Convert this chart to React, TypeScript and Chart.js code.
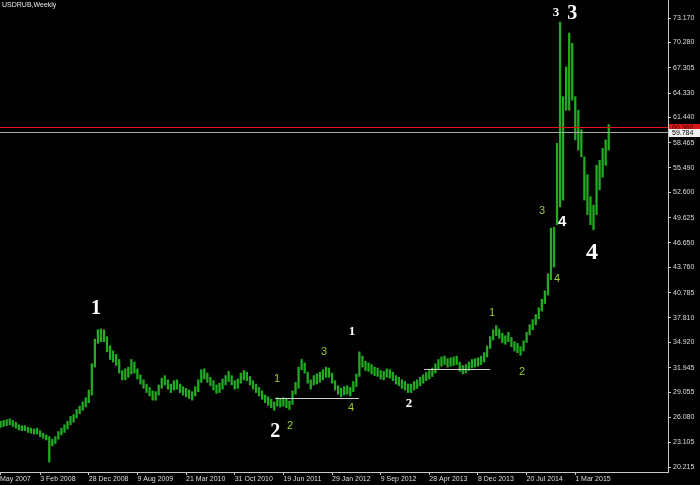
import React, { useEffect, useRef } from 'react';
import { Chart, registerables } from 'chart.js';

Chart.register(...registerables);

// Weekly USDRUB bars (two-week buckets), low and high
const barLow = [
  24.9, 25.0, 25.1, 25.2, 25.0, 24.8, 24.6, 24.5, 24.5, 24.3,
  24.2, 24.1, 24.1, 23.8, 23.6, 23.4, 20.8, 22.7, 23.0, 23.5,
  24.0, 24.3, 24.7, 25.2, 25.5, 26.0, 26.5, 26.9, 27.3, 27.8,
  28.7, 32.0, 34.8, 35.0, 35.0, 33.8, 32.9, 32.6, 32.2, 31.3,
  30.5, 30.5, 30.8, 31.2, 31.3, 30.6, 30.0, 29.5, 29.0, 28.6,
  28.1, 28.1, 28.7, 29.5, 29.9, 29.4, 29.0, 29.3, 29.4, 29.0,
  28.7, 28.5, 28.3, 28.1, 28.6, 29.1, 30.2, 30.6, 30.2, 29.8,
  29.3, 28.9, 29.0, 29.4, 29.9, 30.3, 29.9, 29.4, 29.5, 30.1,
  30.5, 30.4, 29.9, 29.4, 29.0, 28.6, 28.2, 27.8, 27.5, 27.2,
  26.9, 27.4, 27.3, 27.4, 27.2, 27.0, 27.6, 28.8, 29.5, 31.7,
  31.3, 30.1, 29.4, 29.9, 30.0, 30.2, 30.5, 30.8, 30.8, 30.1,
  29.3, 28.8, 28.5, 28.7, 28.8, 28.6, 29.1, 29.7, 30.9, 32.0,
  31.6, 31.5, 31.2, 31.0, 30.9, 30.6, 30.5, 30.8, 30.7, 30.4,
  30.0, 29.8, 29.5, 29.3, 29.0, 29.0, 29.3, 29.5, 29.8, 30.1,
  30.4, 30.6, 30.9, 31.3, 31.8, 32.1, 32.3, 32.0, 32.1, 32.2,
  32.3, 31.5, 31.2, 31.3, 31.6, 31.9, 32.0, 32.1, 32.3, 32.6,
  33.2, 34.2, 35.2, 35.7, 35.4, 34.9, 34.7, 35.0, 34.4, 33.9,
  33.7, 33.4, 33.9, 34.9, 35.8, 36.4, 37.0, 37.7, 38.6, 39.5,
  40.5, 42.3, 43.8, 48.8, 50.9, 51.7, 62.3, 62.3, 63.5, 58.8,
  57.6, 56.8, 51.7, 50.0, 48.8, 48.2, 50.0, 52.9, 54.4, 55.8,
  57.6,
];

const barHigh = [
  25.6, 25.7, 25.8, 25.9, 25.7, 25.5, 25.2, 25.1, 25.1, 24.9,
  24.8, 24.7, 24.8, 24.5, 24.2, 24.0, 23.8, 23.5, 23.8, 24.4,
  24.8, 25.2, 25.6, 26.2, 26.4, 27.0, 27.4, 27.9, 28.4, 29.3,
  32.4, 35.3, 36.4, 36.5, 36.4, 35.6, 34.5, 33.9, 33.5, 32.9,
  31.6, 31.8, 32.0, 32.9, 32.6, 31.8, 31.1, 30.5, 30.0, 29.6,
  29.2, 29.1, 29.9, 30.7, 31.0, 30.5, 30.0, 30.4, 30.5, 30.0,
  29.7, 29.5, 29.3, 29.1, 29.7, 30.5, 31.7, 31.8, 31.3, 30.8,
  30.4, 29.9, 30.1, 30.6, 31.0, 31.5, 31.0, 30.4, 30.6, 31.3,
  31.6, 31.4, 30.9, 30.4, 30.0, 29.6, 29.2, 28.7, 28.5, 28.2,
  27.9, 28.4, 28.3, 28.4, 28.2, 28.0, 29.2, 30.2, 32.0, 32.9,
  32.5, 31.4, 30.5, 31.0, 31.2, 31.4, 31.7, 32.0, 31.9, 31.3,
  30.4, 29.8, 29.5, 29.7, 29.8, 29.6, 30.3, 31.2, 33.8, 33.3,
  32.7, 32.5, 32.3, 32.0, 31.9, 31.6, 31.5, 31.8, 31.7, 31.4,
  31.0, 30.8, 30.5, 30.3, 30.0, 30.0, 30.3, 30.5, 30.8, 31.1,
  31.4, 31.6, 31.9, 32.4, 32.9, 33.2, 33.3, 33.0, 33.1, 33.2,
  33.3, 32.6, 32.2, 32.3, 32.6, 32.9, 33.0, 33.1, 33.3, 33.7,
  34.5, 35.6, 36.4, 36.9, 36.5, 36.0, 35.7, 36.1, 35.5, 35.0,
  34.8, 34.4, 35.1, 36.1, 37.0, 37.6, 38.2, 39.0, 40.0, 41.0,
  43.0, 48.4, 48.5, 58.4, 72.7, 63.9, 67.4, 71.4, 70.2, 63.9,
  62.3, 60.0, 56.8, 54.7, 52.1, 51.1, 55.8, 56.4, 57.8, 58.8,
  60.6,
];

// Time axis labels (bar slot, text)
const dateTickSlots = [-0.2, 13, 29, 45, 61, 77, 93, 109, 125, 141, 157, 173, 189];
const dateTickLabels = [
  'May 2007', '3 Feb 2008', '28 Dec 2008', '9 Aug 2009', '21 Mar 2010', '31 Oct 2010',
  '19 Jun 2011', '29 Jan 2012', '9 Sep 2012', '28 Apr 2013', '8 Dec 2013', '20 Jul 2014', '1 Mar 2015',
];

// Price axis labels
const priceTicks = [
  73.17, 70.28, 67.305, 64.33, 61.44, 58.465, 55.49, 52.6, 49.625, 46.65,
  43.76, 40.785, 37.81, 34.92, 31.945, 29.055, 26.08, 23.105, 20.215,
];

const symbolTitle = 'USDRUB,Weekly';
const bidPrice = 59.784;
const redLinePrice = 60.36;

// Horizontal support segments
const supportFrom = [90.3, 139.3];
const supportTo = [117.9, 161.0];
const supportPrice = [28.4, 31.75];

// Elliott wave labels
const waveText = ['1', '2', '2', '1', '3', '4', '1', '2', '1', '2', '3', '4', '4', '3', '3', '4'];
const waveSlot = [31.4, 90.3, 95.2, 90.9, 106.4, 115.3, 115.6, 134.3, 161.6, 171.5, 178.1, 184.7, 183.0, 182.7, 188.0, 194.5];
const wavePrice = [38.86, 24.36, 25.06, 30.61, 33.79, 27.19, 36.15, 27.66, 38.39, 31.43, 50.42, 49.12, 42.4, 73.77, 73.65, 45.47];
const waveKind = ['big', 'big', 'minor', 'minor', 'minor', 'minor', 'mid', 'mid', 'minor', 'minor', 'minor', 'sans', 'minor', 'mid', 'big', 'huge'];

const waveStyle: Record<string, { font: string; color: string }> = {
  huge: { font: 'bold 24px "Liberation Serif"', color: '#ffffff' },
  big: { font: 'bold 20px "Liberation Serif"', color: '#ffffff' },
  mid: { font: 'bold 13px "Liberation Serif"', color: '#ffffff' },
  sans: { font: 'bold 15px "Liberation Sans"', color: '#ffffff' },
  minor: { font: '11px "Liberation Sans"', color: '#9acd32' },
};

const AXIS_COLOR = '#c8c8c8';
const LABEL_COLOR = '#dcdcdc';
const SMALL_FONT = { family: 'Liberation Sans', size: 7 };

const overlayPlugin = {
  id: 'mtOverlay',
  beforeDraw(chart: any) {
    const ctx = chart.ctx;
    ctx.save();
    ctx.fillStyle = '#000000';
    ctx.fillRect(0, 0, chart.width, chart.height);
    ctx.restore();
  },
  afterDatasetsDraw(chart: any) {
    const { ctx, chartArea, scales } = chart;
    const xs = scales.x;
    const ys = scales.y;
    ctx.save();
    ctx.beginPath();
    ctx.rect(chartArea.left, chartArea.top, chartArea.right - chartArea.left, chartArea.bottom - chartArea.top);
    ctx.clip();
    ctx.lineWidth = 1;

    // support segments
    for (let i = 0; i < supportPrice.length; i++) {
      const py = Math.round(ys.getPixelForValue(supportPrice[i])) + 0.5;
      ctx.strokeStyle = '#d0d0d0';
      ctx.beginPath();
      ctx.moveTo(xs.getPixelForValue(supportFrom[i]), py);
      ctx.lineTo(xs.getPixelForValue(supportTo[i]), py);
      ctx.stroke();
    }

    // bid line
    const by = Math.round(ys.getPixelForValue(bidPrice)) + 0.5;
    ctx.strokeStyle = '#a8a8a8';
    ctx.beginPath();
    ctx.moveTo(chartArea.left, by);
    ctx.lineTo(chartArea.right, by);
    ctx.stroke();

    // red level line
    const ry = Math.round(ys.getPixelForValue(redLinePrice)) + 0.5;
    ctx.strokeStyle = 'rgb(230, 20, 20)';
    ctx.beginPath();
    ctx.moveTo(chartArea.left, ry);
    ctx.lineTo(chartArea.right, ry);
    ctx.stroke();

    // wave labels
    ctx.textAlign = 'center';
    ctx.textBaseline = 'middle';
    for (let i = 0; i < waveText.length; i++) {
      const st = waveStyle[waveKind[i]];
      ctx.font = st.font;
      ctx.fillStyle = st.color;
      ctx.fillText(waveText[i], xs.getPixelForValue(waveSlot[i]), ys.getPixelForValue(wavePrice[i]));
    }

    // title
    ctx.textAlign = 'left';
    ctx.textBaseline = 'top';
    ctx.font = '7px "Liberation Sans"';
    ctx.fillStyle = '#e6e6e6';
    ctx.fillText(symbolTitle, chartArea.left + 2, chartArea.top + 2);
    ctx.restore();
  },
  afterDraw(chart: any) {
    const { ctx, chartArea, scales } = chart;
    const ys = scales.y;
    ctx.save();
    ctx.font = '7px "Liberation Sans"';
    ctx.textAlign = 'left';
    ctx.textBaseline = 'middle';
    const boxes = [
      { price: redLinePrice, bg: '#d81818', fg: '#3a0000' },
      { price: bidPrice, bg: '#f0f0f0', fg: '#000000' },
    ];
    for (const b of boxes) {
      const py = ys.getPixelForValue(b.price);
      ctx.fillStyle = b.bg;
      ctx.fillRect(chartArea.right + 1, Math.round(py) - 3, chart.width - chartArea.right - 1, 8);
      ctx.fillStyle = b.fg;
      ctx.fillText(b.price.toFixed(3), chartArea.right + 4, Math.round(py) + 1);
    }
    ctx.restore();
  },
};

export default function App() {
  const canvasRef = useRef<HTMLCanvasElement>(null);

  useEffect(() => {
    document.body.style.margin = '0';
    document.body.style.background = '#000';
    const canvas = canvasRef.current;
    if (!canvas) return;
    const chart = new Chart(canvas, {
      type: 'bar',
      data: {
        datasets: [
          {
            data: barLow.map((lo, i) => ({ x: i, y: [lo, barHigh[i]] })) as any,
            backgroundColor: '#22ac22',
            borderWidth: 0,
            barThickness: 1.6,
            grouped: false,
          } as any,
        ],
      },
      options: {
        animation: false,
        responsive: false,
        devicePixelRatio: 1,
        events: [],
        layout: { padding: 0 },
        plugins: {
          legend: { display: false },
          tooltip: { enabled: false },
          title: { display: false },
        },
        scales: {
          x: {
            type: 'linear',
            min: -0.2,
            max: 219.5,
            bounds: 'data',
            offset: false,
            grid: {
              offset: false,
              drawOnChartArea: false,
              drawTicks: true,
              tickLength: 3,
              color: AXIS_COLOR,
              lineWidth: 1,
            },
            border: { display: true, color: AXIS_COLOR, width: 1 },
            ticks: {
              autoSkip: false,
              maxRotation: 0,
              minRotation: 0,
              align: 'start',
              padding: 0,
              color: LABEL_COLOR,
              font: SMALL_FONT,
              callback: (_v: any, i: number) => dateTickLabels[i] ?? '',
            },
            afterBuildTicks: (s: any) => {
              s.ticks = dateTickSlots.map((v) => ({ value: v }));
            },
            afterFit: (s: any) => {
              s.height = 13;
              s.paddingLeft = 0;
              s.paddingRight = 0;
            },
          } as any,
          y: {
            type: 'linear',
            position: 'right',
            min: 19.63,
            max: 75.3,
            bounds: 'data',
            grid: {
              drawOnChartArea: false,
              drawTicks: true,
              tickLength: 3,
              color: AXIS_COLOR,
              lineWidth: 1,
            },
            border: { display: true, color: AXIS_COLOR, width: 1 },
            ticks: {
              autoSkip: false,
              padding: 2,
              color: LABEL_COLOR,
              font: SMALL_FONT,
              callback: (v: any) => Number(v).toFixed(3),
            },
            afterBuildTicks: (s: any) => {
              s.ticks = priceTicks.map((v) => ({ value: v }));
            },
            afterFit: (s: any) => {
              s.width = 32;
              s.paddingTop = 0;
              s.paddingBottom = 0;
            },
          } as any,
        },
      },
      plugins: [overlayPlugin],
    });
    return () => chart.destroy();
  }, []);

  return (
    <div style={{ position: 'absolute', left: 0, top: 0, width: 700, height: 485, background: '#000' }}>
      <canvas ref={canvasRef} width={700} height={485} style={{ display: 'block', width: 700, height: 485 }} />
    </div>
  );
}
